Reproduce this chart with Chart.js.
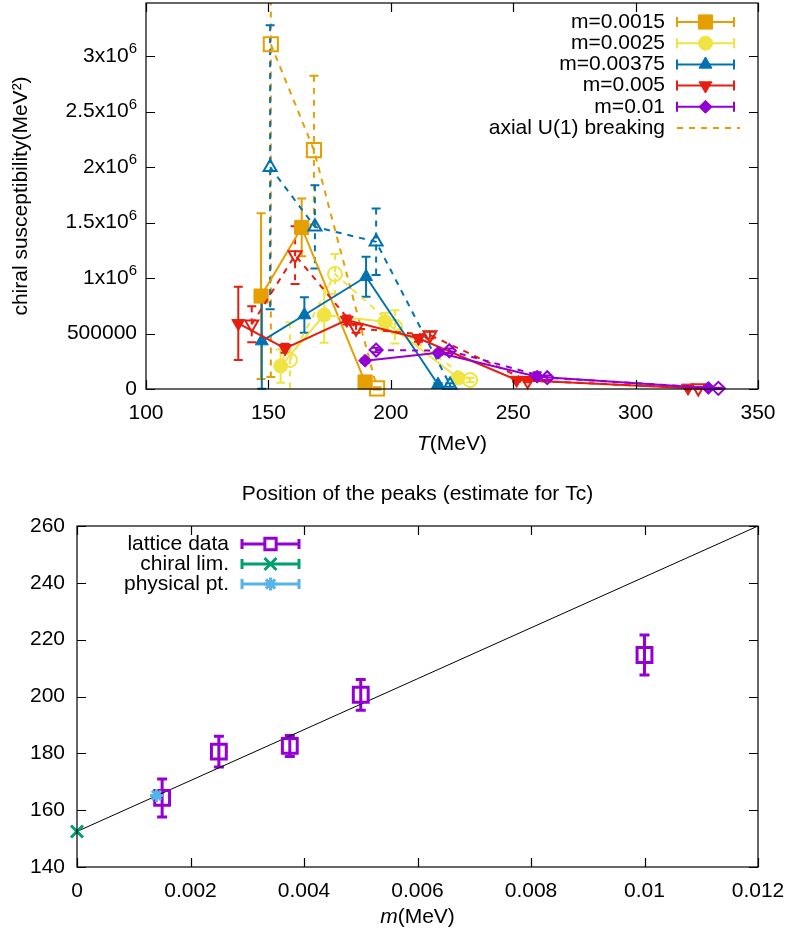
<!DOCTYPE html>
<html>
<head>
<meta charset="utf-8">
<script src="https://cdn.jsdelivr.net/npm/chart.js@4.4.1/dist/chart.umd.min.js"></script>
<style>
  html, body { margin: 0; padding: 0; background: #fff; }
  #top { position: absolute; left: 0; top: 0; }
  #bottom { position: absolute; left: 0; top: 440px; }
</style>
</head>
<body>
<canvas id="top" width="790" height="460"></canvas>
<canvas id="bottom" width="790" height="500"></canvas>
<script>
// ---- top panel: chiral susceptibility vs T ----
const seriesNames = ["m=0.0015", "m=0.0025", "m=0.00375", "m=0.005", "m=0.01", "axial U(1) breaking"];
const tTicks = [100, 150, 200, 250, 300, 350];
const chiTicks = [0, 500000, 1000000, 1500000, 2000000, 2500000, 3000000];
const chiTickLabels = ["0", "500000", "1x10^6", "1.5x10^6", "2x10^6", "2.5x10^6", "3x10^6"];

const tM0015 = [147, 163.6, 189.5];
const chiM0015 = [838000, 1457000, 63000];
const errM0015 = [747000, 260000, 15000];
const tM0015U1 = [151, 168.6, 194.4];
const chiM0015U1 = [3108000, 2153000, 5000];
const errM0015U1 = [3000000, 670000, 10000];

const tM0025 = [155, 172.8, 197.6, 227.5];
const chiM0025 = [207000, 667000, 606000, 99000];
const errM0025 = [150000, 250000, 80000, 20000];
const tM0025U1 = [158.8, 177.2, 201.7, 232.4];
const chiM0025U1 = [261000, 1036000, 561000, 81000];
const errM0025U1 = [340000, 180000, 150000, 20000];

const tM00375 = [147.3, 164.7, 189.9, 219.3];
const chiM00375 = [432000, 667000, 1012000, 40000];
const errM00375 = [430000, 160000, 180000, 15000];
const tM00375U1 = [150.7, 169, 194, 224.2];
const chiM00375U1 = [2000000, 1462000, 1327000, 36000];
const errM00375U1 = [1280000, 375000, 300000, 15000];

const tM005 = [137.7, 156.8, 182, 211.3, 251.4, 321.4];
const chiM005 = [592000, 367000, 622000, 457000, 81000, 10000];
const errM005 = [330000, 40000, 40000, 30000, 15000, 5000];
const tM005U1 = [143.2, 160.9, 185.8, 216, 255.9, 325.6];
const chiM005U1 = [583000, 1207000, 547000, 486000, 75000, 8000];
const errM005U1 = [162000, 260000, 40000, 30000, 15000, 5000];

const tM01 = [189.5, 219.4, 259.8, 329.7];
const chiM01 = [255000, 327000, 111000, 10000];
const errM01 = [20000, 20000, 40000, 5000];
const tM01U1 = [194, 223.9, 263.9, 333.8];
const chiM01U1 = [351000, 345000, 102000, 6000];
const errM01U1 = [20000, 20000, 20000, 5000];

// ---- bottom panel: peak positions ----
const peakNames = ["lattice data", "chiral lim.", "physical pt."];
const massLattice = [0.0015, 0.0025, 0.00375, 0.005, 0.01];
const tcLattice = [164.3, 180.6, 182.6, 200.6, 214.6];
const tcErrLattice = [6.7, 5.4, 3.7, 5.4, 7.0];
const massChiral = [0];
const tcChiral = [152.5];
const massPhys = [0.0014];
const tcPhys = [165.2];
const fitMass = [0, 0.012];
const fitTc = [152.5, 260];

const FONT = '"Liberation Sans", Arial, Helvetica, sans-serif';
const orange = "#e69f00", yellow = "#f0e442", blue = "#0072b2", red = "#e51e10",
      purple = "#9400d3", green = "#009e73", skyblue = "#56b4e9";

Chart.defaults.font.family = FONT;
Chart.defaults.font.size = 21;
Chart.defaults.color = "#000";

function series(xs, ys, errs, color, style, radius, rotation, open, order) {
    return {
        data: xs.map((v, i) => ({ x: v, y: ys[i] })),
        errors: errs,
        showLine: true,
        borderColor: color,
        borderWidth: 2,
        borderDash: open ? [6, 6] : [],
        pointStyle: style,
        pointRadius: radius,
        pointRotation: rotation,
        pointBackgroundColor: open ? "rgba(0,0,0,0)" : color,
        pointBorderColor: color,
        pointBorderWidth: open ? 2 : 1,
        clip: false,
        order: order,
    };
}

// fixed box sizes so the plot areas land where the reference has them
function fixX(h) {
    return (s) => { s.height = h; s.paddingLeft = 0; s.paddingRight = 0; };
}
function fixY(w) {
    return (s) => { s.width = w; s.paddingTop = 0; s.paddingBottom = 0; };
}

function decor(cfg) {
    return {
        id: "decor",
        beforeDatasetsDraw(chart) {
            const { ctx, chartArea: a, scales: { x, y } } = chart;
            ctx.save();
            ctx.beginPath();
            ctx.rect(a.left, a.top, a.right - a.left, a.bottom - a.top + 4);
            ctx.clip();
            chart.data.datasets.forEach((ds) => {
                if (!ds.errors) return;
                ctx.strokeStyle = ds.borderColor;
                ctx.lineWidth = cfg.errWidth;
                ds.data.forEach((p, i) => {
                    const px = x.getPixelForValue(p.x);
                    const y1 = y.getPixelForValue(p.y + ds.errors[i]);
                    const y2 = y.getPixelForValue(p.y - ds.errors[i]);
                    ctx.setLineDash(ds.borderDash);
                    ctx.beginPath();
                    ctx.moveTo(px, y1);
                    ctx.lineTo(px, y2);
                    ctx.stroke();
                    ctx.setLineDash([]);
                    ctx.beginPath();
                    ctx.moveTo(px - cfg.cap, y1); ctx.lineTo(px + cfg.cap, y1);
                    ctx.moveTo(px - cfg.cap, y2); ctx.lineTo(px + cfg.cap, y2);
                    ctx.stroke();
                });
            });
            ctx.restore();
        },
        afterDraw(chart) {
            const { ctx, chartArea: a, scales: { x, y } } = chart;
            ctx.save();
            // frame + inward ticks
            ctx.strokeStyle = "#000";
            ctx.lineWidth = 1.2;
            ctx.strokeRect(a.left, a.top, a.right - a.left, a.bottom - a.top);
            ctx.beginPath();
            x.ticks.forEach((t) => {
                const px = Math.round(x.getPixelForValue(t.value)) + 0.5;
                ctx.moveTo(px, a.bottom); ctx.lineTo(px, a.bottom - 9);
                ctx.moveTo(px, a.top); ctx.lineTo(px, a.top + 9);
            });
            y.ticks.forEach((t) => {
                const py = Math.round(y.getPixelForValue(t.value)) + 0.5;
                ctx.moveTo(a.left, py); ctx.lineTo(a.left + 9, py);
                ctx.moveTo(a.right, py); ctx.lineTo(a.right - 9, py);
            });
            ctx.stroke();

            ctx.fillStyle = "#000";
            ctx.textBaseline = "middle";

            // y tick labels with raised exponents
            if (cfg.yValues) {
                cfg.yValues.forEach((v, i) => {
                    const py = y.getPixelForValue(v);
                    const parts = cfg.yLabels[i].split("^");
                    let right = a.left - 9;
                    if (parts.length > 1) {
                        ctx.font = "15px " + FONT;
                        ctx.textAlign = "right";
                        ctx.fillText(parts[1], right, py - 7);
                        right -= ctx.measureText(parts[1]).width;
                    }
                    ctx.font = "21px " + FONT;
                    ctx.textAlign = "right";
                    ctx.fillText(parts[0], right, py);
                });
            }

            // x axis title with italic symbol
            ctx.font = "italic 21px " + FONT;
            const w1 = ctx.measureText(cfg.xSym).width;
            ctx.font = "21px " + FONT;
            const w2 = ctx.measureText(cfg.xUnit).width;
            const cx = (a.left + a.right) / 2 - (w1 + w2) / 2;
            ctx.textAlign = "left";
            ctx.font = "italic 21px " + FONT;
            ctx.fillText(cfg.xSym, cx, cfg.xTitleY);
            ctx.font = "21px " + FONT;
            ctx.fillText(cfg.xUnit, cx + w1, cfg.xTitleY);

            if (cfg.title) {
                ctx.textAlign = "center";
                ctx.fillText(cfg.title, (a.left + a.right) / 2, cfg.titleY);
            }

            // key
            cfg.legend.forEach((e, i) => {
                const yy = cfg.legendY + i * cfg.legendStep;
                ctx.textAlign = "right";
                ctx.fillStyle = "#000";
                ctx.font = "21px " + FONT;
                ctx.fillText(e.label, cfg.textRight, yy);
                ctx.strokeStyle = e.color;
                ctx.lineWidth = cfg.keyWidth;
                if (e.dash) {
                    ctx.setLineDash(e.dash);
                    ctx.beginPath();
                    ctx.moveTo(cfg.sampleL, yy); ctx.lineTo(cfg.sampleR + 6, yy);
                    ctx.stroke();
                    ctx.setLineDash([]);
                    return;
                }
                ctx.beginPath();
                ctx.moveTo(cfg.sampleL, yy); ctx.lineTo(cfg.sampleR, yy);
                ctx.moveTo(cfg.sampleL, yy - 5); ctx.lineTo(cfg.sampleL, yy + 5);
                ctx.moveTo(cfg.sampleR, yy - 5); ctx.lineTo(cfg.sampleR, yy + 5);
                ctx.stroke();
                const sx = (cfg.sampleL + cfg.sampleR) / 2;
                ctx.fillStyle = e.open ? "#fff" : e.color;
                ctx.lineWidth = e.bw;
                Chart.helpers.drawPoint(ctx, { pointStyle: e.style, radius: e.r, rotation: e.rot || 0, borderWidth: e.bw }, sx, yy);
            });
            ctx.restore();
        },
    };
}

// ---- top chart ----
new Chart(document.getElementById("top"), {
    type: "scatter",
    data: {
        datasets: [
            series(tM0015, chiM0015, errM0015, orange, "rect", 10, 0, false, 10),
            series(tM0015U1, chiM0015U1, errM0015U1, orange, "rect", 10, 0, true, 9),
            series(tM0025, chiM0025, errM0025, yellow, "circle", 7, 0, false, 8),
            series(tM0025U1, chiM0025U1, errM0025U1, yellow, "circle", 7, 0, true, 7),
            series(tM00375, chiM00375, errM00375, blue, "triangle", 7.5, 0, false, 6),
            series(tM00375U1, chiM00375U1, errM00375U1, blue, "triangle", 7.5, 0, true, 5),
            series(tM005, chiM005, errM005, red, "triangle", 7.5, 180, false, 4),
            series(tM005U1, chiM005U1, errM005U1, red, "triangle", 7.5, 180, true, 3),
            series(tM01, chiM01, errM01, purple, "rectRot", 6.5, 0, false, 2),
            series(tM01U1, chiM01U1, errM01U1, purple, "rectRot", 6.5, 0, true, 1),
        ],
    },
    options: {
        responsive: false,
        animation: false,
        events: [],
        layout: { autoPadding: false, padding: { left: 0, right: 32, top: 3, bottom: 0 } },
        plugins: { legend: { display: false }, tooltip: { enabled: false } },
        scales: {
            x: {
                type: "linear",
                min: tTicks[0],
                max: tTicks[tTicks.length - 1],
                afterBuildTicks: (s) => { s.ticks = tTicks.map((v) => ({ value: v })); },
                ticks: { padding: 12, maxRotation: 0, callback: (v) => String(v) },
                grid: { display: false, drawTicks: false },
                border: { display: false },
                afterFit: fixX(71),
            },
            y: {
                min: 0,
                max: 3480000,
                afterBuildTicks: (s) => { s.ticks = chiTicks.map((v) => ({ value: v })); },
                ticks: { display: false },
                grid: { display: false, drawTicks: false },
                border: { display: false },
                title: { display: true, text: "chiral susceptibility(MeV²)", padding: { top: 9, bottom: 0 } },
                afterFit: fixY(146),
            },
        },
    },
    plugins: [decor({
        errWidth: 2, cap: 4.5, keyWidth: 2,
        yValues: chiTicks, yLabels: chiTickLabels,
        xSym: "T", xUnit: "(MeV)", xTitleY: 444,
        legendY: 22, legendStep: 21.2, textRight: 665, sampleL: 677, sampleR: 734,
        legend: [
            { label: seriesNames[0], color: orange, style: "rect", r: 10, bw: 1 },
            { label: seriesNames[1], color: yellow, style: "circle", r: 7, bw: 1 },
            { label: seriesNames[2], color: blue, style: "triangle", r: 7.5, bw: 1 },
            { label: seriesNames[3], color: red, style: "triangle", r: 7.5, rot: 180, bw: 1 },
            { label: seriesNames[4], color: purple, style: "rectRot", r: 6.5, bw: 1 },
            { label: seriesNames[5], color: orange, dash: [6, 6] },
        ],
    })],
});

// ---- bottom chart ----
new Chart(document.getElementById("bottom"), {
    type: "scatter",
    data: {
        datasets: [
            {
                data: fitMass.map((v, i) => ({ x: v, y: fitTc[i] })),
                showLine: true, borderColor: "#000", borderWidth: 1, pointRadius: 0, order: 4,
            },
            {
                data: massLattice.map((v, i) => ({ x: v, y: tcLattice[i] })),
                errors: tcErrLattice,
                borderColor: purple, pointStyle: "rect", pointRadius: 10.5,
                pointBackgroundColor: "rgba(0,0,0,0)", pointBorderColor: purple, pointBorderWidth: 3,
                borderDash: [], clip: false, order: 3,
            },
            {
                data: massChiral.map((v, i) => ({ x: v, y: tcChiral[i] })),
                pointStyle: "crossRot", pointRadius: 8.5, pointBorderColor: green, pointBorderWidth: 3,
                clip: false, order: 2,
            },
            {
                data: massPhys.map((v, i) => ({ x: v, y: tcPhys[i] })),
                pointStyle: "star", pointRadius: 6.5, pointBorderColor: skyblue, pointBorderWidth: 3,
                clip: false, order: 1,
            },
        ],
    },
    options: {
        responsive: false,
        animation: false,
        events: [],
        layout: { autoPadding: false, padding: { left: 0, right: 32, top: 86, bottom: 0 } },
        plugins: { legend: { display: false }, tooltip: { enabled: false } },
        scales: {
            x: {
                type: "linear",
                min: 0,
                max: 0.012,
                ticks: {
                    stepSize: 0.002, padding: 12, maxRotation: 0,
                    callback: (v) => String(Math.round(v * 1000) / 1000),
                },
                grid: { display: false, drawTicks: false },
                border: { display: false },
                afterFit: fixX(73),
            },
            y: {
                min: 140,
                max: 260,
                ticks: { stepSize: 20, padding: 12 },
                grid: { display: false, drawTicks: false },
                border: { display: false },
                afterFit: fixY(77),
            },
        },
    },
    plugins: [decor({
        errWidth: 3, cap: 5, keyWidth: 3,
        xSym: "m", xUnit: "(MeV)", xTitleY: 477,
        title: "Position of the peaks (estimate for Tc)", titleY: 54,
        legendY: 104, legendStep: 20, textRight: 229, sampleL: 242, sampleR: 299,
        legend: [
            { label: peakNames[0], color: purple, style: "rect", r: 8, bw: 3, open: true },
            { label: peakNames[1], color: green, style: "crossRot", r: 8.5, bw: 3 },
            { label: peakNames[2], color: skyblue, style: "star", r: 6.5, bw: 3 },
        ],
    })],
});
</script>
</body>
</html>
